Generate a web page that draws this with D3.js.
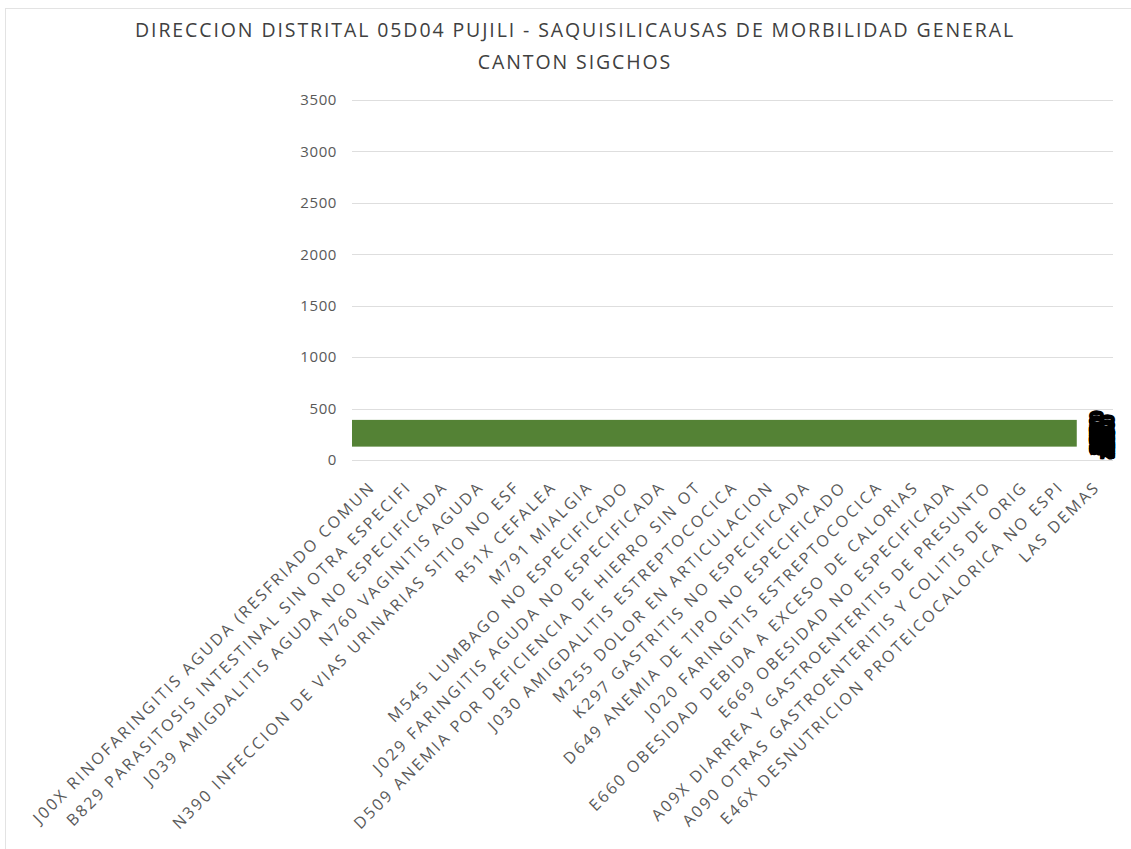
<!DOCTYPE html>
<html>
<head>
<meta charset="utf-8">
<script src="https://cdn.jsdelivr.net/npm/d3@7"></script>
<style>
  body { margin: 0; background: #fff; }
  text { font-family: "Open Sans", sans-serif; }
</style>
</head>
<body>
<div id="chart"></div>
<script>
// categories (x axis)
var categorias = [
  "J00X RINOFARINGITIS AGUDA (RESFRIADO COMUN",
  "B829 PARASITOSIS INTESTINAL SIN OTRA ESPECIFI",
  "J039 AMIGDALITIS AGUDA NO ESPECIFICADA",
  "N760 VAGINITIS AGUDA",
  "N390 INFECCION DE VIAS URINARIAS SITIO NO ESF",
  "R51X CEFALEA",
  "M791 MIALGIA",
  "M545 LUMBAGO NO ESPECIFICADO",
  "J029 FARINGITIS AGUDA NO ESPECIFICADA",
  "D509 ANEMIA POR DEFICIENCIA DE HIERRO SIN OT",
  "J030 AMIGDALITIS ESTREPTOCOCICA",
  "M255 DOLOR EN ARTICULACION",
  "K297 GASTRITIS NO ESPECIFICADA",
  "D649 ANEMIA DE TIPO NO ESPECIFICADO",
  "J020 FARINGITIS ESTREPTOCOCICA",
  "E660 OBESIDAD DEBIDA A EXCESO DE CALORIAS",
  "E669 OBESIDAD NO ESPECIFICADA",
  "A09X DIARREA Y GASTROENTERITIS DE PRESUNTO",
  "A090 OTRAS GASTROENTERITIS Y COLITIS DE ORIG",
  "E46X DESNUTRICION PROTEICOCALORICA NO ESPI",
  "LAS DEMAS"
];
// the broken bar as drawn: one band from first to second last category
var barraDesde = 130, barraHasta = 390;
// data labels, all piled on the last category (unreadable, estimated)
var etiquetas = [3120, 1450, 980, 720, 650, 540, 480, 450, 420, 390, 350, 300, 280];
var yTicks = [0, 500, 1000, 1500, 2000, 2500, 3000, 3500];

var W = 1131, H = 849;
var margin = {top: 100, right: 18, bottom: 389, left: 352},
    width = W - margin.left - margin.right,
    height = H - margin.top - margin.bottom;

var root = d3.select("#chart").append("svg")
    .attr("width", W).attr("height", H);

// chart frame
root.append("rect")
    .attr("x", 5.5).attr("y", 8.5).attr("width", W).attr("height", H)
    .attr("fill", "none").attr("stroke", "#e3e3e3");

root.append("text").attr("x", 575).attr("y", 37)
    .attr("text-anchor", "middle").attr("font-size", 19.5).attr("fill", "#404040")
    .attr("letter-spacing", 1.9)
    .text("DIRECCION DISTRITAL 05D04 PUJILI - SAQUISILICAUSAS DE MORBILIDAD GENERAL");
root.append("text").attr("x", 575).attr("y", 69)
    .attr("text-anchor", "middle").attr("font-size", 19.5).attr("fill", "#404040")
    .attr("letter-spacing", 1.9)
    .text("CANTON SIGCHOS");

var svg = root.append("g")
    .attr("transform", "translate(" + margin.left + "," + margin.top + ")");

var x = d3.scaleBand().domain(categorias).range([0, width]).padding(0);
var y = d3.scaleLinear().domain([0, 3500]).range([height, 0]);

// gridlines
svg.append("g").selectAll("line").data(yTicks).join("line")
    .attr("x1", 0).attr("x2", width)
    .attr("y1", function(d) { return Math.round(y(d)) + 0.5; })
    .attr("y2", function(d) { return Math.round(y(d)) + 0.5; })
    .attr("stroke", "#dedede");

// y axis
var yAxis = svg.append("g")
    .call(d3.axisLeft(y).tickValues(yTicks).tickFormat(d3.format("d")).tickSize(0).tickPadding(15));
yAxis.select(".domain").remove();
yAxis.selectAll("text").attr("font-size", 15).attr("fill", "#595959")
    .attr("letter-spacing", 0.6)
    .style("font-family", "Open Sans");

// x axis labels
var xAxis = svg.append("g")
    .attr("transform", "translate(0," + height + ")")
    .call(d3.axisBottom(x).tickSize(0).tickPadding(0));
xAxis.select(".domain").remove();
xAxis.selectAll("text")
    .attr("font-size", 16).attr("fill", "#595959")
    .attr("letter-spacing", 2.4)
    .style("font-family", "Open Sans")
    .attr("text-anchor", "end")
    .attr("dy", 0)
    .attr("transform", "translate(6,28) rotate(-45)");

// the bar
var ult = categorias[categorias.length - 2];
svg.append("rect")
    .attr("x", x(categorias[0]))
    .attr("width", x(ult) + x.bandwidth() - x(categorias[0]))
    .attr("y", y(barraHasta))
    .attr("height", y(barraDesde) - y(barraHasta))
    .attr("fill", "#548235");

// piled data labels
var ultima = categorias[categorias.length - 1];
svg.append("g").selectAll("text").data(etiquetas).join("text")
    .attr("transform", function(d, i) {
      var cx = x(ultima) + x.bandwidth() / 2 + 7 + (i % 2 ? 6 : -5);
      var cy = y(250) + (i % 4) * 4 - 3;
      return "translate(" + cx + "," + cy + ") rotate(-90)";
    })
    .attr("text-anchor", "middle")
    .attr("dy", "0.35em")
    .attr("font-size", 18).attr("font-weight", "bold").attr("fill", "#000")
    .attr("stroke", "#000").attr("stroke-width", 2)
    .text(function(d) { return d; });
</script>
</body>
</html>
